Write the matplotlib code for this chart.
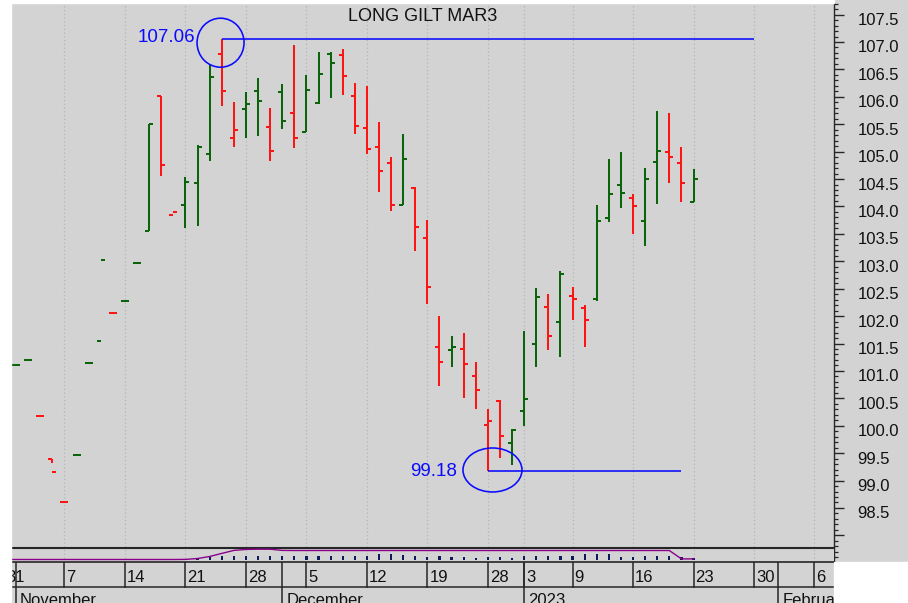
import numpy as np
import pandas as pd
import matplotlib
matplotlib.use("Agg")
import matplotlib.pyplot as plt
from matplotlib.patches import Ellipse, Rectangle
from matplotlib.ticker import FixedLocator, MultipleLocator, FuncFormatter
import matplotlib.transforms as mtransforms

plt.rcParams['font.family'] = ['Liberation Sans', 'DejaVu Sans']

# ---------------- data ----------------
title = "LONG GILT MAR3"
holidays = ['2022-12-26', '2022-12-27', '2023-01-02']
calendar_start, calendar_end = '2022-10-31', '2023-02-10'

bar_dates = ['2022-11-01', '2022-11-02', '2022-11-03', '2022-11-04', '2022-11-07', '2022-11-08',
             '2022-11-09', '2022-11-10', '2022-11-11', '2022-11-14', '2022-11-15', '2022-11-16',
             '2022-11-17', '2022-11-18', '2022-11-21', '2022-11-22', '2022-11-23', '2022-11-24',
             '2022-11-25', '2022-11-28', '2022-11-29', '2022-11-30', '2022-12-01', '2022-12-02',
             '2022-12-05', '2022-12-06', '2022-12-07', '2022-12-08', '2022-12-09', '2022-12-12',
             '2022-12-13', '2022-12-14', '2022-12-15', '2022-12-16', '2022-12-19', '2022-12-20',
             '2022-12-21', '2022-12-22', '2022-12-23', '2022-12-28', '2022-12-29', '2022-12-30',
             '2023-01-03', '2023-01-04', '2023-01-05', '2023-01-06', '2023-01-09', '2023-01-10',
             '2023-01-11', '2023-01-12', '2023-01-13', '2023-01-16', '2023-01-17', '2023-01-18',
             '2023-01-19', '2023-01-20', '2023-01-23']

opens = [101.11, 101.20, 100.18, 99.39, 98.61, 99.47, 101.14, 101.55, 102.06, 102.28, 102.97, 103.55,
         106.01, 103.84, 104.02, 104.42, 104.96, 106.79, 105.25, 105.77, 106.11, 105.45, 106.08, 105.70,
         105.35, 105.89, 106.79, 106.76, 106.02, 105.44, 105.08, 104.80, 104.02, 104.34, 103.42, 101.43,
         101.38, 101.40, 100.91, 100.01, 100.46, 99.69, 100.26, 101.49, 102.17, 101.89, 102.37, 102.14,
         102.31, 103.79, 104.39, 104.16, 103.74, 104.82, 105.00, 104.79, 104.08]
highs = [101.11, 101.20, 100.18, 99.39, 98.61, 99.47, 101.14, 101.55, 102.06, 102.28, 102.97, 105.50,
         106.01, 103.84, 104.54, 105.13, 106.58, 107.06, 105.91, 106.08, 106.34, 105.79, 106.23, 106.95,
         106.39, 106.82, 106.81, 106.87, 106.25, 106.20, 105.54, 104.91, 105.33, 104.36, 103.75, 102.01,
         101.64, 101.70, 101.16, 100.30, 100.47, 99.94, 101.73, 102.52, 102.40, 102.83, 102.53, 102.20,
         104.03, 104.86, 105.00, 104.22, 104.71, 105.74, 105.71, 105.08, 104.68]
lows = [101.11, 101.20, 100.18, 99.32, 98.61, 99.47, 101.14, 101.55, 102.06, 102.28, 102.97, 103.55,
        104.56, 103.84, 103.61, 103.64, 104.83, 105.83, 105.09, 105.24, 105.29, 104.83, 105.41, 105.06,
        105.35, 105.86, 105.97, 106.03, 105.32, 104.95, 104.26, 103.92, 104.02, 103.19, 102.22, 100.73,
        101.08, 100.51, 100.31, 99.18, 99.42, 99.28, 100.00, 101.08, 101.39, 101.25, 101.93, 101.44,
        102.28, 103.72, 103.98, 103.49, 103.27, 104.04, 104.43, 104.09, 104.08]
closes = [101.11, 101.20, 100.18, 99.16, 98.61, 99.47, 101.14, 103.02, 102.06, 102.28, 102.97, 105.50,
          104.76, 103.90, 104.45, 105.09, 106.36, 106.11, 105.39, 105.87, 105.93, 105.02, 105.56, 105.25,
          106.12, 106.42, 106.62, 106.38, 105.47, 105.05, 104.65, 104.02, 104.87, 103.62, 102.53, 101.17,
          101.43, 101.12, 100.66, 100.09, 99.81, 99.92, 100.49, 102.34, 101.64, 102.77, 102.31, 101.92,
          103.74, 104.22, 104.25, 104.00, 104.50, 105.02, 104.91, 104.42, 104.50]

volume = [0.8, 0.8, 0.8, 0.8, 0.8, 0.8, 0.8, 0.8, 0.8, 0.8, 0.8, 0.8, 0.8, 0.8, 0.8, 1.5,
          2.3, 3.7, 3.7, 3.7, 3.7, 3.7, 3.7, 3.7, 3.7, 3.7, 3.7, 3.7, 3.7, 3.9, 5.7, 5.7,
          5.0, 3.7, 2.3, 3.7, 2.3, 2.3, 1.5, 2.3, 2.3, 1.5, 3.7, 3.7, 3.7, 3.7, 3.7, 5.3,
          5.3, 5.3, 2.3, 2.3, 3.7, 3.7, 3.7, 2.3, 1.5]

# open interest, from 2022-10-31 to 2023-01-23
oi_dates_start = '2022-10-31'
open_interest = [0.2, 0.2, 0.2, 0.2, 0.2, 0.2, 0.2, 0.2, 0.2, 0.2, 0.2, 0.2, 0.2, 0.2, 0.2, 0.3,
                 1.2, 3.2, 6.3, 9.3, 10.3, 10.5, 10.5, 9.3] + [9.2] * 32 + [0.8, 0.8]

high_mark = ('2022-11-24', 107.06, '2023-01-30')
low_mark = ('2022-12-28', 99.18, '2023-01-20')
month_names = {11: 'November', 12: 'December', 1: '2023', 2: 'February'}

# ---------------- styling ----------------
BG = '#d3d3d3'
GREEN = '#0a640a'
RED = '#ff1414'
BLUE = '#0a0aff'
PURPLE = '#8a008a'
NAVY = '#0c1a5c'
DARK = '#262626'
GRID = '#b4b4b4'

W, H = 908, 603
fig = plt.figure(figsize=(W / 100, H / 100), dpi=100)
fig.patch.set_facecolor(BG)

def fr(x0, y0, x1, y1):
    return [x0 / W, 1 - y1 / H, (x1 - x0) / W, (y1 - y0) / H]

# white margins
fig.patches.append(Rectangle((0, 0), 11 / W, 1, transform=fig.transFigure, color='white', zorder=0))
fig.patches.append(Rectangle((0, 1 - 3 / H), 834 / W, 3 / H, transform=fig.transFigure, color='white', zorder=0))
fig.patches.append(Rectangle((834 / W, 0), 1, (H - 561.7) / H, transform=fig.transFigure, color='white', zorder=0))

# calendar
cal = pd.bdate_range(calendar_start, calendar_end)
cal = cal[~cal.isin(pd.to_datetime(holidays))]
pos = {d: i for i, d in enumerate(cal)}
xs = np.array([pos[pd.Timestamp(d)] for d in bar_dates], dtype=float)
oi_x = np.arange(pos[pd.Timestamp(oi_dates_start)], pos[pd.Timestamp(oi_dates_start)] + len(open_interest))

PXD = 12.097  # pixels per trading day
XLIM = ((11 - 4) / PXD, (834 - 4) / PXD)

week_ticks = [i for i in range(len(cal)) if i == 0 or cal[i].isocalendar()[1] != cal[i - 1].isocalendar()[1]]
month_ticks = [i for i in range(1, len(cal)) if cal[i].month != cal[i - 1].month]

# ---------------- main axes ----------------
ax = fig.add_axes(fr(11, 3, 834, 561.7))
ax.set_facecolor(BG)
ax.set_xlim(*XLIM)
ax.set_ylim(107 - 519.7 / 54.82, 107 + 39 / 54.82)

for i in week_ticks:
    ax.axvline(i, color=GRID, lw=0.9, ls=(0, (1, 2)), zorder=1)

o = np.array(opens); h = np.array(highs); l = np.array(lows); c = np.array(closes)
prev = np.concatenate([[c[0] - 1], c[:-1]])
cols = [GREEN if cc >= pp else RED for cc, pp in zip(c, prev)]
tick = 4 / PXD
ax.vlines(xs, l, h, colors=cols, lw=1.45, zorder=3, capstyle='butt')
ax.hlines(o, xs - tick, xs, colors=cols, lw=1.45, zorder=3, capstyle='butt')
ax.hlines(c, xs, xs + tick, colors=cols, lw=1.45, zorder=3, capstyle='butt')

# annotations
for (d0, val, d1), txt_off, ell in [
        (high_mark, (-19.3, -2.2), (-1.2, -4.0, 47, 49)),
        (low_mark, (-22.5, -3.8), (4.6, 0.7, 59, 44))]:
    x0 = pos[pd.Timestamp(d0)]
    x1 = pos[pd.Timestamp(d1)]
    ax.plot([x0, x1], [val, val], color=BLUE, lw=1.15, zorder=4, solid_capstyle='butt')
    ax.annotate(f'{val:.2f}', xy=(x0, val), xytext=txt_off, textcoords='offset points',
                ha='right', va='baseline', color=BLUE, fontsize=13.5, zorder=5)
    tr = fig.dpi_scale_trans + mtransforms.ScaledTranslation(x0, val, ax.transData)
    e = Ellipse((ell[0] / 100, ell[1] / 100), ell[2] / 100, ell[3] / 100, transform=tr,
                fill=False, edgecolor=BLUE, lw=1.15, zorder=5)
    ax.add_patch(e)

# right axis
for s in ['left', 'top', 'bottom']:
    ax.spines[s].set_visible(False)
ax.spines['right'].set_color(DARK)
ax.spines['right'].set_linewidth(1.0)
ax.set_xticks([])
ax.yaxis.tick_right()
ax.yaxis.set_major_locator(FixedLocator(np.arange(98.0, 107.51, 0.5)))
ax.yaxis.set_minor_locator(MultipleLocator(0.1))
ax.yaxis.set_major_formatter(FuncFormatter(lambda v, p: '' if v < 98.25 else f'{v:.1f}'))
ax.tick_params(axis='y', which='major', direction='out', length=7.3, width=1.0, color=DARK,
               labelsize=12, pad=9.5, labelcolor='#111111')
ax.tick_params(axis='y', which='minor', direction='out', length=3.1, width=0.9, color=DARK)
off = mtransforms.ScaledTranslation(0, -4.5 / 100, fig.dpi_scale_trans)
for lab in ax.get_yticklabels():
    lab.set_transform(lab.get_transform() + off)

fig.text(422.5 / W, 1 - 21 / H, title, ha='center', va='baseline', fontsize=13, color='#111111')

# ---------------- volume / open interest panel ----------------
sub = fig.add_axes(fr(11, 548.3, 834, 561.7))
sub.set_facecolor(BG)
sub.set_xlim(*XLIM)
sub.set_ylim(-2, 11.4)
for i in week_ticks:
    sub.axvline(i, color=GRID, lw=0.9, ls=(0, (1, 2)), zorder=1)
sub.bar(xs, volume, width=2.2 / PXD, color=NAVY, zorder=2)
sub.plot(oi_x, open_interest, color=PURPLE, lw=1.0, zorder=3)
for s in ['left', 'right']:
    sub.spines[s].set_visible(False)
sub.spines['top'].set_color(DARK); sub.spines['top'].set_linewidth(1.5)
sub.spines['bottom'].set_color(DARK); sub.spines['bottom'].set_linewidth(1.2)
sub.set_xticks([]); sub.set_yticks([])

# ---------------- date rows ----------------
dax = fig.add_axes(fr(11, 561.7, 834, 603))
dax.set_facecolor(BG)
dax.set_xlim(*XLIM)
dax.set_ylim(0, 41.3)
dax.axis('off')
dax.patch.set_visible(True)
dax.axhline(16.5, color=DARK, lw=1.1)
for i in week_ticks:
    dax.plot([i, i], [16.5, 41.3], color=DARK, lw=1.1)
    dax.text(i + 2 / PXD, 21.5, str(cal[i].day), ha='left', va='baseline', fontsize=12,
             color='#111111', clip_on=True)
for i in month_ticks:
    dax.plot([i, i], [0, 41.3], color=DARK, lw=1.1)
    dax.text(i + 4 / PXD, -2, month_names[cal[i].month], ha='left', va='baseline', fontsize=12,
             color='#111111', clip_on=True)

fig.savefig('out.png', dpi=100, facecolor=fig.get_facecolor())
